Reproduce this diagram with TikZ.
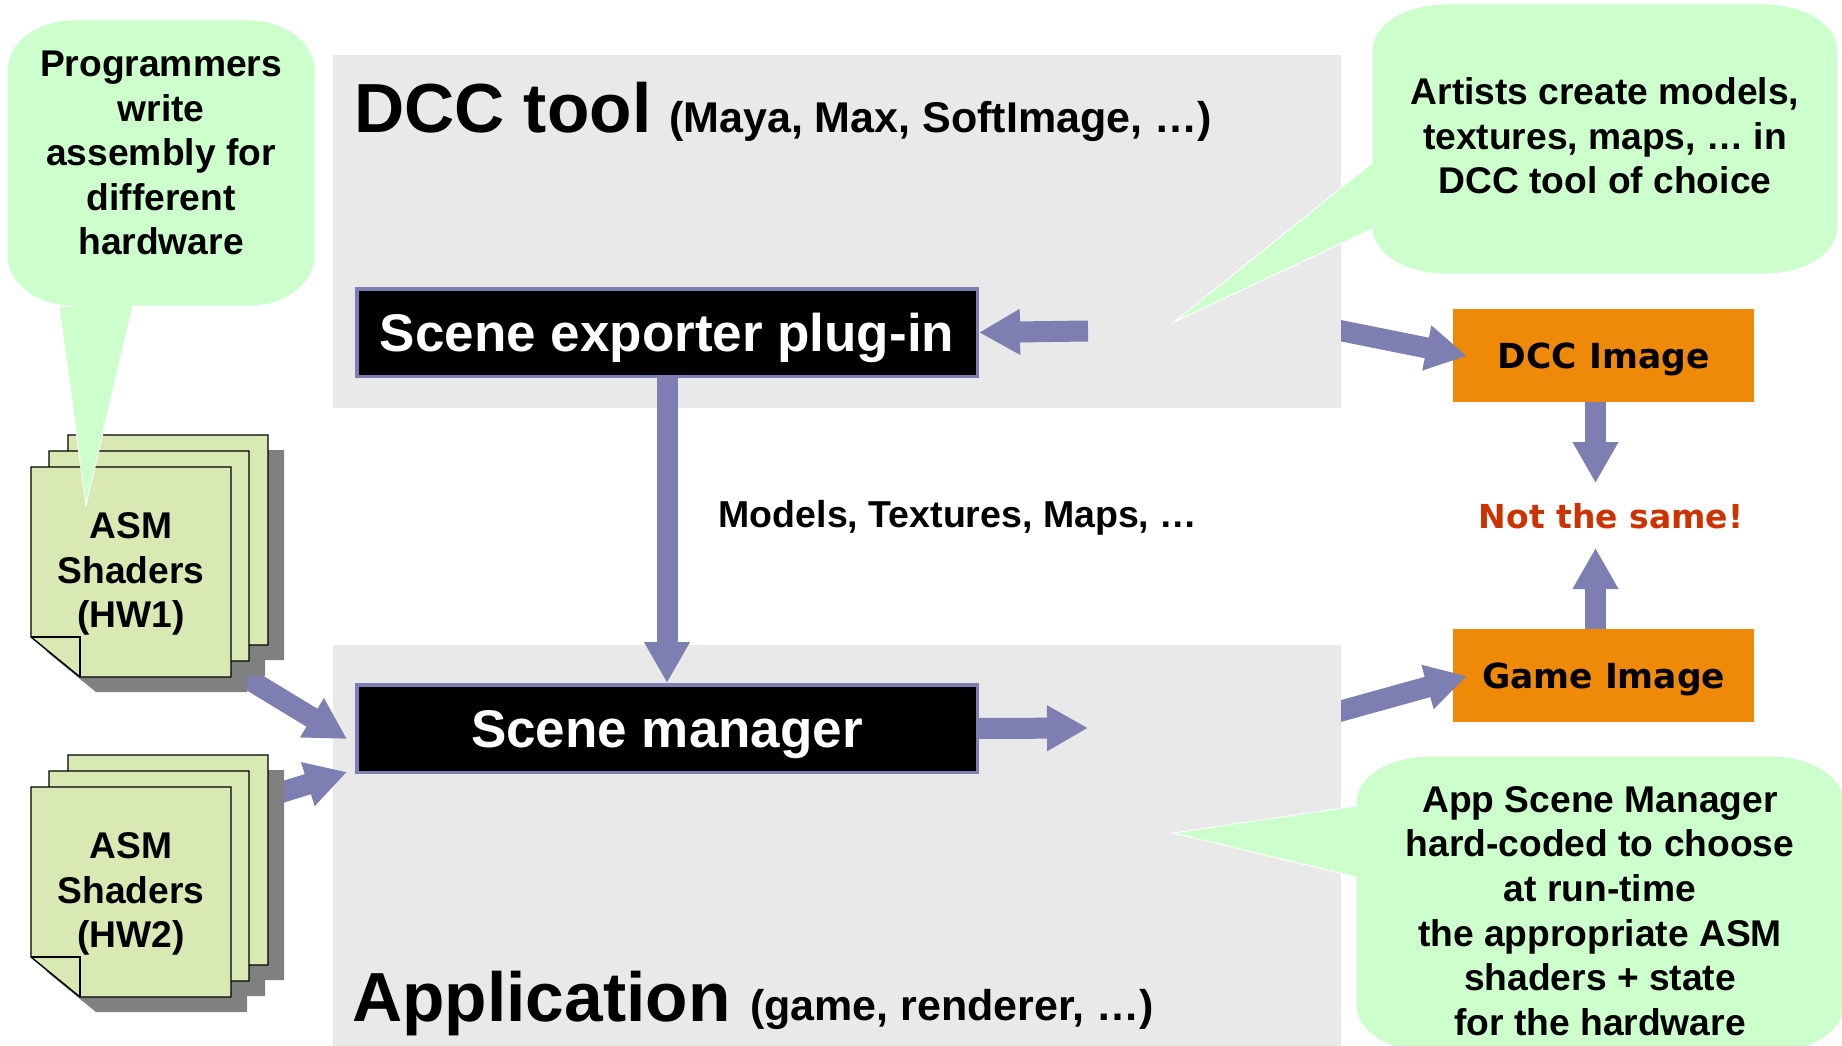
\documentclass[tikz,border=0pt]{standalone}
\usepackage{fontspec}
\setmainfont{Liberation Sans}
\newfontfamily\verdfont{DejaVu Sans}
\usetikzlibrary{arrows.meta}

\definecolor{panelgray}{HTML}{E9E9E9}
\definecolor{balloongreen}{HTML}{CCFFCC}
\definecolor{sheetgreen}{HTML}{D9E9B4}
\definecolor{arrowblue}{HTML}{7D7FB2}
\definecolor{imgorange}{HTML}{EF8A08}
\definecolor{warnred}{HTML}{CC3300}
\definecolor{shadowgray}{HTML}{808080}

\begin{document}
\begin{tikzpicture}[x=1pt,y=-1pt,
	panel_node/.style={fill=panelgray,inner sep=0pt,anchor=north west,minimum width=1008pt},
	scene_node/.style={fill=black,draw=arrowblue,line width=3.5pt,text=white,inner sep=0pt,anchor=north west,minimum width=620.5pt,minimum height=87.5pt,text depth=0pt,font=\bfseries\fontsize{53}{60}\selectfont},
	image_node/.style={fill=imgorange,inner sep=0pt,anchor=north west,minimum width=301pt,minimum height=93pt,text depth=0pt,font=\verdfont\bfseries\fontsize{34.5}{40}\selectfont},
	note_node/.style={align=center,inner sep=0pt,font=\bfseries\fontsize{37.2}{44.6}\selectfont},
	title_node/.style={anchor=base west,inner sep=0pt,font=\bfseries\fontsize{69.5}{80}\selectfont},
	sub_node/.style={anchor=base west,inner sep=0pt,font=\bfseries\fontsize{43}{50}\selectfont},
	big_arrow/.style={draw=arrowblue,line width=21pt,-{Triangle[length=41pt,width=43pt]}},
	sheet/.style={fill=sheetgreen,draw=black,line width=1.4pt,line join=miter},
	balloon/.style={fill=balloongreen,draw=white,line width=1pt,line join=miter}]

	\useasboundingbox (0,0) rectangle (1842,1046);
	\fill[white] (0,0) rectangle (1842,1046);

	\node[image_node] (dccimage) at (1453,309) {DCC Image};
	\node[image_node] (gameimage) at (1453,629) {Game Image};

	\coordinate (dccout) at (1300,322.5);
	\coordinate (gameout) at (1300,722.4);
	\coordinate (dcctip) at (1467,356);
	\coordinate (gametip) at (1467,676);

	% these two run out from behind the panels
	\draw[big_arrow] (dccout) -- (dcctip);
	\draw[big_arrow] (gameout) -- (gametip);

	\node[panel_node,minimum height=353pt] (dccpanel) at (333,55) {};
	\node[panel_node,minimum height=401pt] (apppanel) at (333,645) {};

	\node[title_node] (dcctitle) at (354,133) {DCC tool};
	\node[sub_node] (dccsub) at (669,133) {(Maya, Max, SoftImage, \ldots)};
	\node[title_node] (apptitle) at (352,1021) {Application};
	\node[sub_node] (appsub) at (750,1020) {(game, renderer, \ldots)};

	\node[scene_node] (exporter) at (355,287) {Scene exporter plug-in};
	\node[scene_node] (manager) at (355,683) {Scene manager};

	\node[inner sep=0pt,font=\verdfont\bfseries\fontsize{33}{40}\selectfont,text=warnred] (notsame) at (1611,516) {Not the same!};
	\node[inner sep=0pt,font=\bfseries\fontsize{37.5}{44}\selectfont] (models) at (958,518) {Models, Textures, Maps, \ldots};

	\coordinate (stackone) at (235,671);
	\coordinate (stacktwo) at (260,799);
	\coordinate (managerin1) at (347,739);
	\coordinate (managerin2) at (347,772);
	\coordinate (exporterin) at (1088,331);
	\coordinate (managerout) at (1088,728);
	\coordinate (sametop) at (1595.5,483);
	\coordinate (samebottom) at (1595.5,548);

	\draw[big_arrow] (exporter.south) -- (manager.north);
	\draw[big_arrow] (exporterin) -- (exporter.east);
	\draw[big_arrow] (manager.east) -- (managerout);
	\draw[big_arrow] (sametop |- dccimage.south) -- (sametop);
	\draw[big_arrow] (samebottom |- gameimage.north) -- (samebottom);
	\draw[big_arrow] (stackone) -- (managerin1);
	\draw[big_arrow] (stacktwo) -- (managerin2);

	% two stacks of sheets
	\foreach \yy/\hw in {0/1,320/2}{
		\begin{scope}[yshift=\yy*-1pt]
			\foreach \dx/\dy in {37/-32,18/-16,0/0}{
				\fill[shadowgray,shift={(\dx+16,\dy+15)}] (31,467) -- (231,467) -- (231,677) -- (80,677) -- (31,637) -- cycle;
			}
			\foreach \dx/\dy in {37/-32,18/-16,0/0}{
				\draw[sheet,shift={(\dx,\dy)}] (31,467) -- (231,467) -- (231,677) -- (80,677) -- (31,637) -- cycle;
			}
			\draw[black,line width=1.4pt] (31,637) -- (80,637) -- (80,677);
			\node[note_node] (shaders\hw) at (131,574) {ASM\\Shaders\\(HW\hw)};
		\end{scope}
	}

	% balloons
	\draw[balloon] (74,20) -- (250,20) arc[start angle=-90,end angle=0,x radius=65,y radius=50] -- (315,256) arc[start angle=0,end angle=90,x radius=65,y radius=50] -- (133,306) -- (86,505) -- (59,306) -- (72,306) arc[start angle=90,end angle=180,x radius=65,y radius=50] -- (7,70) arc[start angle=180,end angle=270,x radius=65,y radius=50] -- cycle;
	\node[note_node] (prognote) at (161,153) {Programmers\\write\\assembly for\\different\\hardware};

	\draw[balloon] (1445,4) -- (1765,4) arc[start angle=-90,end angle=0,x radius=73,y radius=46] -- (1838,228) arc[start angle=0,end angle=90,x radius=73,y radius=46] -- (1445,274) arc[start angle=90,end angle=180,x radius=73,y radius=46] -- (1372,229) -- (1174,322) -- (1372,163) -- (1372,50) arc[start angle=180,end angle=270,x radius=73,y radius=46] -- cycle;
	\node[note_node] (artnote) at (1605,136) {Artists create models,\\textures, maps, \ldots\ in\\DCC tool of choice};

	\draw[balloon] (1429,756) -- (1772,756) arc[start angle=-90,end angle=0,x radius=72,y radius=46] -- (1844,1006) arc[start angle=0,end angle=90,x radius=72,y radius=46] -- (1429,1052) arc[start angle=90,end angle=180,x radius=73,y radius=46] -- (1356,877) -- (1173,833) -- (1356,806) -- (1356,802) arc[start angle=180,end angle=270,x radius=73,y radius=46] -- cycle;
	\node[note_node] (appnote) at (1600,911) {App Scene Manager\\hard-coded to choose\\at run-time\\the appropriate ASM\\shaders + state\\for the hardware};
\end{tikzpicture}
\end{document}
